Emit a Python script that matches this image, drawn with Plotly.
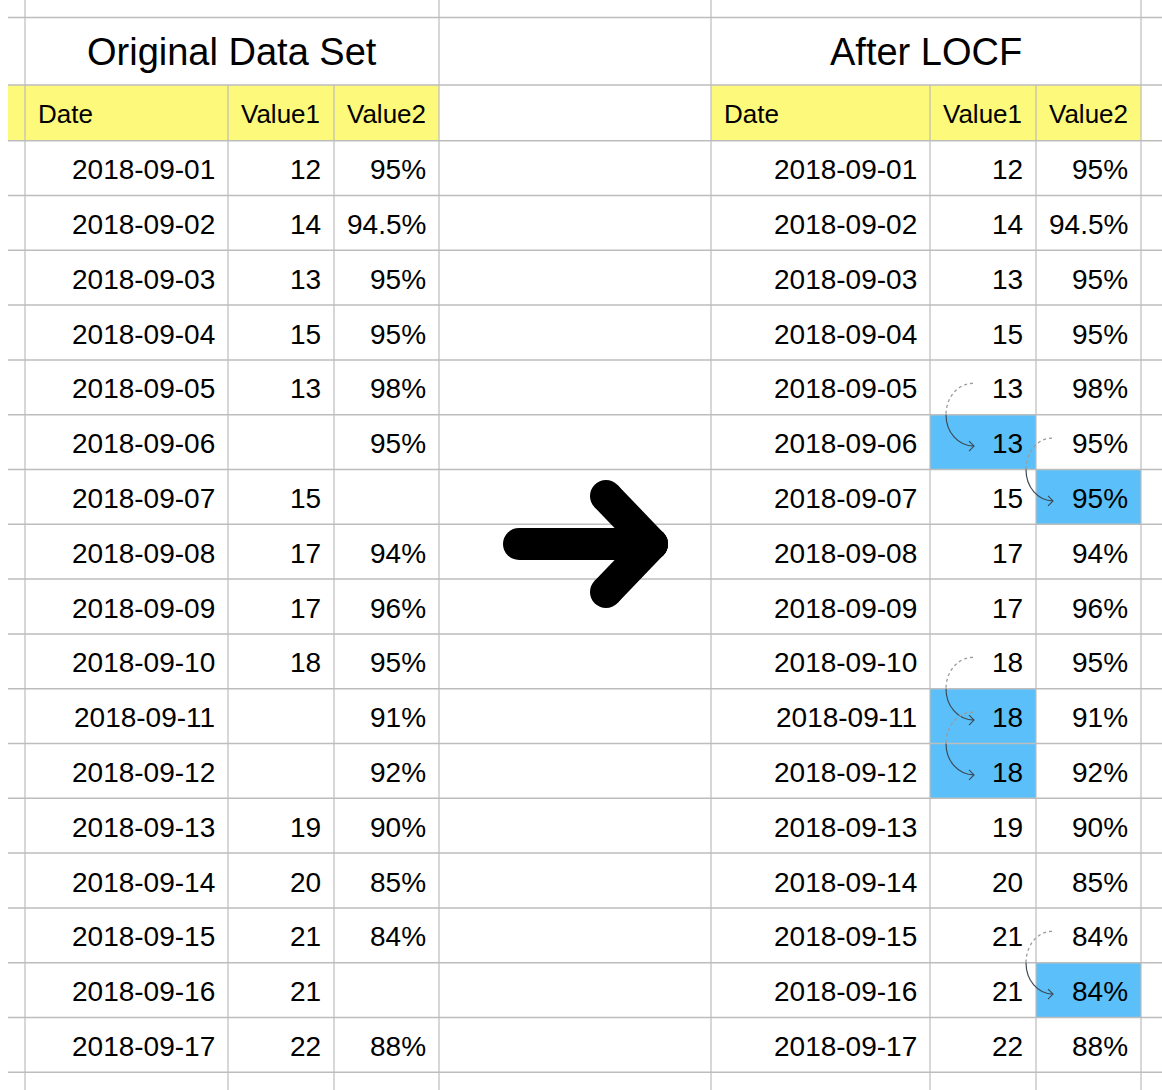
import plotly.graph_objects as go

# ---------------- data ----------------
dates = ["2018-09-01", "2018-09-02", "2018-09-03", "2018-09-04", "2018-09-05",
         "2018-09-06", "2018-09-07", "2018-09-08", "2018-09-09", "2018-09-10",
         "2018-09-11", "2018-09-12", "2018-09-13", "2018-09-14", "2018-09-15",
         "2018-09-16", "2018-09-17"]
value1_orig = [12, 14, 13, 15, 13, None, 15, 17, 17, 18, None, None, 19, 20, 21, 21, 22]
value2_orig = [95, 94.5, 95, 95, 98, 95, None, 94, 96, 95, 91, 92, 90, 85, 84, None, 88]
value1_locf = [12, 14, 13, 15, 13, 13, 15, 17, 17, 18, 18, 18, 19, 20, 21, 21, 22]
value2_locf = [95, 94.5, 95, 95, 98, 95, 95, 94, 96, 95, 91, 92, 90, 85, 84, 84, 88]
headers = ["Date", "Value1", "Value2"]
titles = ["Original Data Set", "After LOCF"]

# ---------------- layout geometry (pixels) ----------------
W, H = 1162, 1090
LEFT_COLS = [25, 228, 334, 439]
RIGHT_COLS = [711, 930, 1036, 1141]
GRID_X0, GRID_X1 = 8, 1162
Y_TOP = 17.5
Y_TITLE_BOT = 85
Y_HEAD_BOT = 140.7
ROW_H = 54.8
N = len(dates)
row_edges = [Y_HEAD_BOT + i * ROW_H for i in range(N + 1)]

FONT = "Liberation Sans, Arial, Helvetica, sans-serif"
GRID_COLOR = "#bdbdbd"
YELLOW = "#fdf97a"
BLUE = "#5bc0f9"

fig = go.Figure()
shapes = []
annotations = []

def row_center(i):
    return (row_edges[i] + row_edges[i + 1]) / 2

def fmt_pct(v):
    return "" if v is None else f"{v:g}%"

def fmt_int(v):
    return "" if v is None else str(v)

# header fills
for cols in (LEFT_COLS, RIGHT_COLS):
    x0 = GRID_X0 if cols is LEFT_COLS else cols[0]
    shapes.append(dict(type="rect", xref="x", yref="y", x0=x0, x1=cols[3],
                       y0=Y_TITLE_BOT, y1=Y_HEAD_BOT, fillcolor=YELLOW,
                       line=dict(width=0), layer="below"))

# blue fills for LOCF-filled cells
for i in range(N):
    if value1_orig[i] is None:
        shapes.append(dict(type="rect", xref="x", yref="y", x0=RIGHT_COLS[1], x1=RIGHT_COLS[2],
                           y0=row_edges[i], y1=row_edges[i + 1], fillcolor=BLUE,
                           line=dict(width=0), layer="below"))
    if value2_orig[i] is None:
        shapes.append(dict(type="rect", xref="x", yref="y", x0=RIGHT_COLS[2], x1=RIGHT_COLS[3],
                           y0=row_edges[i], y1=row_edges[i + 1], fillcolor=BLUE,
                           line=dict(width=0), layer="below"))

# horizontal grid lines
for y in [Y_TOP, Y_TITLE_BOT] + row_edges:
    shapes.append(dict(type="line", xref="x", yref="y", x0=GRID_X0, x1=GRID_X1, y0=y, y1=y,
                       line=dict(color=GRID_COLOR, width=1.5), layer="below"))

# vertical grid lines
for x in [LEFT_COLS[0], LEFT_COLS[3], RIGHT_COLS[0], RIGHT_COLS[3]]:
    shapes.append(dict(type="line", xref="x", yref="y", x0=x, x1=x, y0=0, y1=H,
                       line=dict(color=GRID_COLOR, width=1.2), layer="below"))
for x in [LEFT_COLS[1], LEFT_COLS[2], RIGHT_COLS[1], RIGHT_COLS[2]]:
    shapes.append(dict(type="line", xref="x", yref="y", x0=x, x1=x, y0=Y_TITLE_BOT, y1=H,
                       line=dict(color=GRID_COLOR, width=1.2), layer="below"))

# titles and headers
for cols, t in ((LEFT_COLS, titles[0]), (RIGHT_COLS, titles[1])):
    annotations.append(dict(x=(cols[0] + cols[3]) / 2, y=(Y_TOP + Y_TITLE_BOT) / 2 + 1, text=t,
                            xanchor="center", yanchor="middle", showarrow=False,
                            font=dict(family=FONT, size=38, color="#000")))
    for j, h in enumerate(headers):
        annotations.append(dict(x=cols[j] + 11, y=(Y_TITLE_BOT + Y_HEAD_BOT) / 2 + 1.5, text=h,
                                xanchor="left", yanchor="middle", showarrow=False,
                                font=dict(family=FONT, size=26, color="#000")))

# table bodies
for cols, v1, v2 in ((LEFT_COLS, value1_orig, value2_orig), (RIGHT_COLS, value1_locf, value2_locf)):
    for i in range(N):
        yc = row_center(i) + 1.5
        cells = [dates[i], fmt_int(v1[i]), fmt_pct(v2[i])]
        for j, txt in enumerate(cells):
            if not txt:
                continue
            annotations.append(dict(x=cols[j + 1] - 11, y=yc, text=txt,
                                    xanchor="right", yanchor="middle", showarrow=False,
                                    font=dict(family=FONT, size=28, color="#000")))

# curved LOCF arrows
K = 0.5523
def locf_arrow(cx, y_from, y_to, rx):
    cy = (y_from + y_to) / 2
    ry = (y_to - y_from) / 2
    p_top = (cx, y_from)
    p_left = (cx - rx, cy)
    p_bot = (cx + 1, y_to)
    dotted = (f"M {p_top[0]},{p_top[1]} C {cx - K * rx},{y_from} {cx - rx},{cy - K * ry} "
              f"{p_left[0]},{p_left[1]}")
    solid = (f"M {p_left[0]},{p_left[1]} C {cx - rx},{cy + K * ry} {cx - K * rx},{y_to} "
             f"{p_bot[0]},{p_bot[1]}")
    head = (f"M {p_bot[0] - 5},{p_bot[1] - 5} L {p_bot[0]},{p_bot[1]} "
            f"L {p_bot[0] - 5},{p_bot[1] + 5}")
    shapes.append(dict(type="path", xref="x", yref="y", path=dotted,
                       line=dict(color="#9a9a9a", width=1.3, dash="dot")))
    shapes.append(dict(type="path", xref="x", yref="y", path=solid,
                       line=dict(color="#3d4b58", width=1.2)))
    shapes.append(dict(type="path", xref="x", yref="y", path=head,
                       line=dict(color="#3d4b58", width=1.2)))

for i in range(1, N):
    if value1_orig[i] is None:
        locf_arrow(RIGHT_COLS[1] + 43, row_center(i - 1) - 4, row_center(i) + 4, 27)
    if value2_orig[i] is None:
        locf_arrow(RIGHT_COLS[2] + 16, row_center(i - 1) - 4, row_center(i) + 4, 26)

# big black arrow
SW = 16  # half stroke width
segs = [((519, 544), (652, 544)), ((606, 496), (652, 544)), ((606, 592), (652, 544))]
for (ax, ay), (bx, by) in segs:
    dx, dy = bx - ax, by - ay
    L = (dx * dx + dy * dy) ** 0.5
    nx, ny = -dy / L * SW, dx / L * SW
    path = (f"M {ax + nx},{ay + ny} L {bx + nx},{by + ny} L {bx - nx},{by - ny} "
            f"L {ax - nx},{ay - ny} Z")
    shapes.append(dict(type="path", xref="x", yref="y", path=path,
                       fillcolor="#000", line=dict(width=0)))
    for (px, py) in ((ax, ay), (bx, by)):
        shapes.append(dict(type="circle", xref="x", yref="y", x0=px - SW, x1=px + SW,
                           y0=py - SW, y1=py + SW, fillcolor="#000", line=dict(width=0)))

fig.update_layout(
    width=W, height=H,
    margin=dict(l=0, r=0, t=0, b=0),
    paper_bgcolor="white", plot_bgcolor="white",
    xaxis=dict(range=[0, W], visible=False, fixedrange=True),
    yaxis=dict(range=[H, 0], visible=False, fixedrange=True),
    shapes=shapes, annotations=annotations, showlegend=False,
)

fig.write_html("out.html", config={"displayModeBar": False},
               post_script="document.body.style.margin='0';document.body.style.overflow='hidden';")
